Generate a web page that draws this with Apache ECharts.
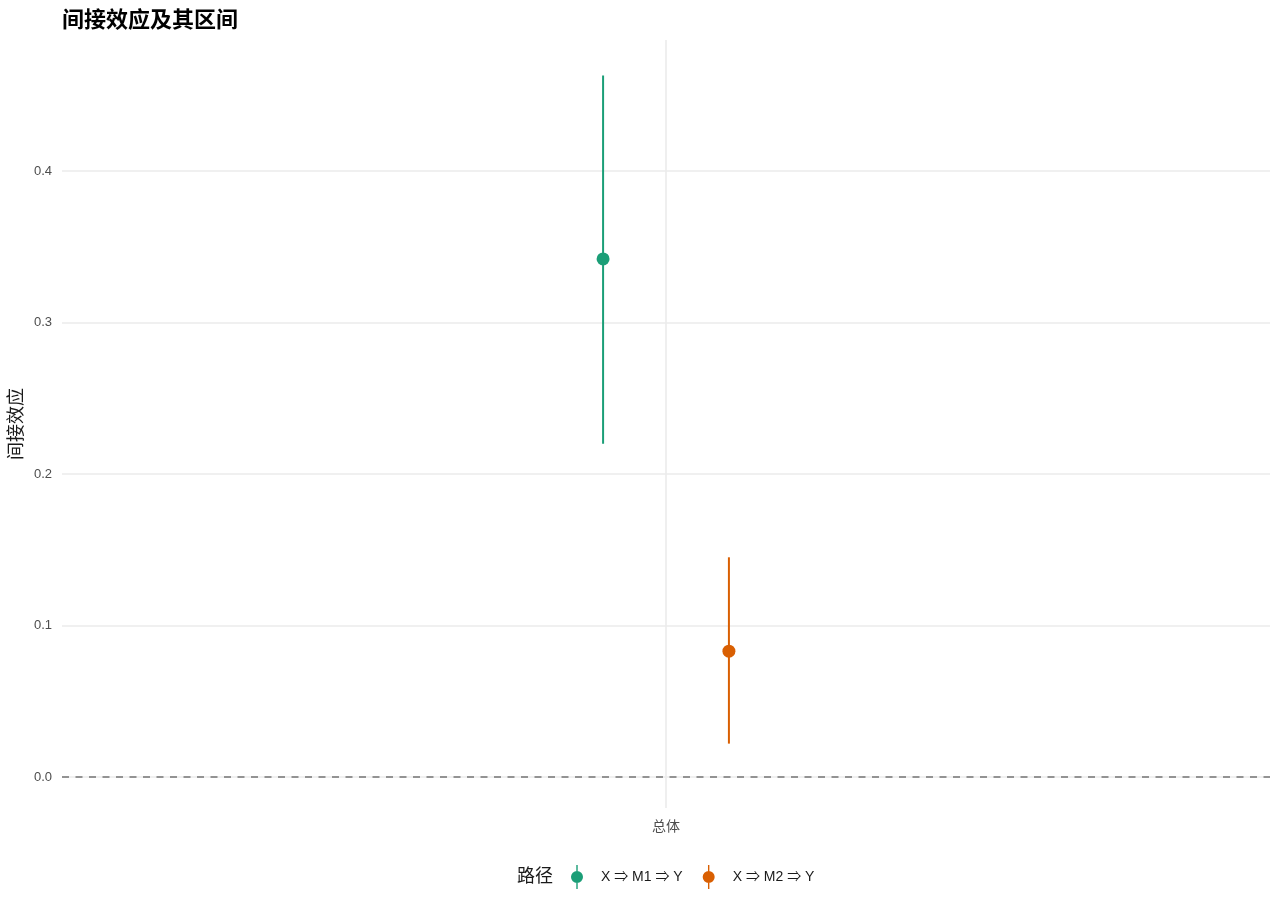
<!DOCTYPE html>
<html>
<head>
<meta charset="utf-8">
<script src="https://cdn.jsdelivr.net/npm/echarts@6/dist/echarts.min.js"></script>
<style>
  html, body { margin: 0; padding: 0; background: #fff; }
  #chart { width: 1280px; height: 912px; }
</style>
</head>
<body>
<div id="chart"></div>
<script>
// data
var categories = ['总体'];
var paths = ['X ⇒ M1 ⇒ Y', 'X ⇒ M2 ⇒ Y'];
var estimate = [0.342, 0.083];
var lower = [0.220, 0.022];
var upper = [0.463, 0.145];
var yTicks = [0, 0.1, 0.2, 0.3, 0.4];

var colors = ['#1b9e77', '#d95f02'];
var dodge = 0.0625;
var font = '"Liberation Sans", "Noto Sans CJK SC", sans-serif';

var chart = echarts.init(document.getElementById('chart'));

var series = [];
paths.forEach(function (name, i) {
    var off = (i - (paths.length - 1) / 2) * 2 * dodge;
    var pts = categories.map(function (c, k) { return [k + 1 + off, estimate[i], lower[i], upper[i]]; });
    series.push({
        name: name,
        type: 'custom',
        color: colors[i],
        renderItem: function (params, api) {
            var a = api.coord([api.value(0), api.value(2)]);
            var b = api.coord([api.value(0), api.value(3)]);
            return {
                type: 'line',
                shape: { x1: a[0], y1: a[1], x2: b[0], y2: b[1] },
                style: { stroke: colors[i], lineWidth: 2 }
            };
        },
        encode: { x: 0, y: 1 },
        data: pts,
        z: 3
    });
    series.push({
        name: name,
        type: 'scatter',
        color: colors[i],
        symbolSize: 13,
        itemStyle: { color: colors[i], opacity: 1 },
        data: pts.map(function (p) { return [p[0], p[1]]; }),
        z: 4
    });
});

// zero reference line
series[0].markLine = {
    silent: true,
    symbol: 'none',
    label: { show: false },
    lineStyle: { color: '#747474', type: [7, 6.5], width: 1.6 },
    data: [{ yAxis: 0 }]
};

var legendIcon = 'path://M4.3,0 L5.7,0 L5.7,24 L4.3,24 Z M5,6 A6,6 0 1 1 4.99,6 Z';

chart.setOption({
    backgroundColor: '#ffffff',
    animation: false,
    title: [{
        text: '间接效应及其区间',
        left: 57, top: 5,
        textStyle: { fontSize: 22, fontWeight: 'bold', color: '#000', fontFamily: font }
    }, {
        text: '路径',
        left: 512, top: 863,
        textStyle: { fontSize: 18, fontWeight: 'normal', color: '#1a1a1a', fontFamily: font }
    }],
    legend: {
        left: 571, top: 865,
        padding: 0,
        itemWidth: 12, itemHeight: 24,
        itemGap: 20,
        icon: legendIcon,
        data: paths,
        textStyle: { fontSize: 14, color: '#1a1a1a', fontFamily: font, padding: [0, 0, 0, 13] }
    },
    grid: { left: 62, right: 10, top: 40, bottom: 104, containLabel: false, outerBoundsMode: 'none' },
    xAxis: {
        type: 'value',
        min: 0.4, max: 1.6,
        axisLine: { show: false },
        axisTick: { show: false, customValues: [1] },
        axisLabel: {
            customValues: [1],
            margin: 12,
            fontSize: 14, color: '#4d4d4d', fontFamily: font,
            formatter: function (v) { return categories[Math.round(v) - 1] || ''; }
        },
        splitLine: { show: true, lineStyle: { color: '#ebebeb', width: 1.6 } }
    },
    yAxis: {
        type: 'value',
        min: -0.0205, max: 0.4865,
        name: '间接效应',
        nameLocation: 'middle',
        nameGap: 36,
        nameMoveOverlap: false,
        nameRotate: 90,
        nameTextStyle: { fontSize: 18, color: '#1a1a1a', fontFamily: font },
        axisLine: { show: false },
        axisTick: { show: false, customValues: yTicks },
        axisLabel: {
            customValues: yTicks,
            margin: 10,
            fontSize: 13, color: '#4d4d4d', fontFamily: font,
            formatter: function (v) { return v.toFixed(1); }
        },
        splitLine: { show: true, lineStyle: { color: '#ebebeb', width: 1.6 } }
    },
    series: series
});
</script>
</body>
</html>
